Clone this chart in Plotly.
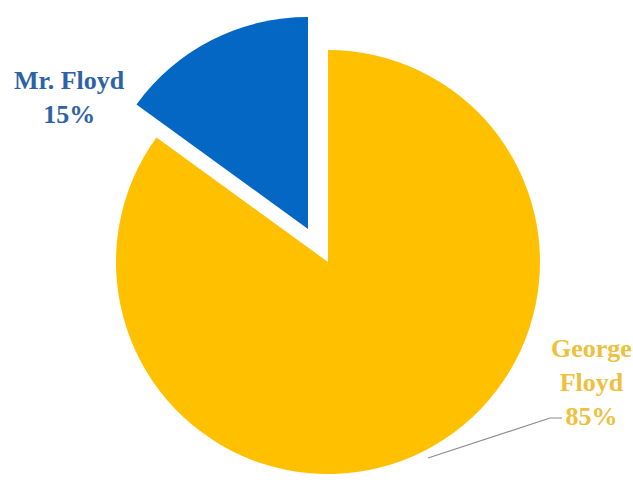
import plotly.graph_objects as go

# Share of mentions by name
labels = ["Mr. Floyd", "George Floyd"]
values = [15, 85]
slice_colors = ["#0467C4", "#FFC000"]
label_colors = ["#2E62A6", "#EDC03E"]

W, H = 633, 480


def px_domain(cx, cy, r):
    """Pie domain (paper fractions) for a circle centred at pixel (cx, cy)."""
    return dict(
        x=[(cx - r) / W, (cx + r) / W],
        y=[1 - (cy + r) / H, 1 - (cy - r) / H],
    )


total = sum(values)
# first wedge ends at 12 o'clock, the rest continue clockwise from there
start_angle = -360 * values[0] / total

fig = go.Figure()

# Main body of the pie (George Floyd) and the exploded wedge (Mr. Floyd)
# drawn as two pies sharing the same values; each shows one slice.
centres = [(308, 229), (328, 262)]
R = 212
for i, (cx, cy) in enumerate(centres):
    cols = ["rgba(0,0,0,0)"] * len(values)
    cols[i] = slice_colors[i]
    fig.add_trace(go.Pie(
        labels=labels,
        values=values,
        sort=False,
        direction="clockwise",
        rotation=start_angle,
        marker=dict(colors=cols, line=dict(width=0)),
        textinfo="none",
        hoverinfo="label+percent",
        showlegend=False,
        domain=px_domain(cx, cy, R),
    ))

pct = [f"{round(v * 100 / total)}%" for v in values]

font = dict(family="Liberation Serif", size=26)
fig.add_annotation(
    x=69 / W, y=1 - 97 / H, xref="paper", yref="paper",
    text=f"<b>{labels[0]}<br>{pct[0]}</b>",
    showarrow=False, xanchor="center", yanchor="middle",
    font=dict(color=label_colors[0], **font),
)
first, last = labels[1].split(" ")
fig.add_annotation(
    x=591 / W, y=1 - 382 / H, xref="paper", yref="paper",
    text=f"<b>{first}<br>{last}<br>{pct[1]}</b>",
    showarrow=False, xanchor="center", yanchor="middle",
    font=dict(color=label_colors[1], **font),
)

# Leader line from the slice edge to its label
fig.add_shape(
    type="path", xref="paper", yref="paper",
    path=(f"M {428 / W},{1 - 458 / H} L {550 / W},{1 - 418 / H} "
          f"L {562 / W},{1 - 418 / H}"),
    line=dict(color="#8C8C8C", width=1.2),
)

fig.update_layout(
    width=W, height=H,
    margin=dict(l=0, r=0, t=0, b=0),
    paper_bgcolor="white",
    plot_bgcolor="white",
)

fig.write_html("out.html")
